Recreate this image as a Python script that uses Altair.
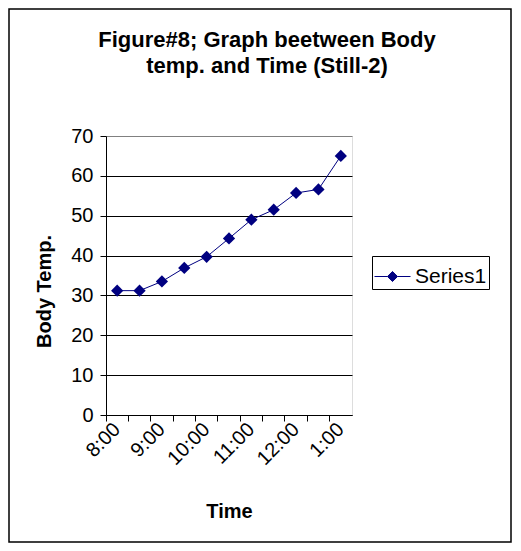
import altair as alt
import pandas as pd

times = ["8:00", "8:30", "9:00", "9:30", "10:00", "10:30",
         "11:00", "11:30", "12:00", "12:30", "1:00"]
body_temp = [31.2, 31.2, 33.5, 36.9, 39.7, 44.3, 49.0, 51.5, 55.7, 56.6, 65.0]
series = ["Series1"] * len(times)

title_lines = ["Figure#8; Graph beetween Body", "temp. and Time (Still-2)"]
y_ticks = [0, 10, 20, 30, 40, 50, 60, 70]

df = pd.DataFrame({"time": times, "temp": body_temp, "series": series})

FONT = "Liberation Sans"
NAVY = "#000080"

x_enc = alt.X(
    "time:N",
    sort=times,
    scale=alt.Scale(type="band", paddingInner=0, paddingOuter=0),
    axis=alt.Axis(
        title="Time",
        labelAngle=-45,
        labelAlign="right",
        labelBaseline="middle",
        labelFontSize=20,
        labelPadding=5,
        labelExpr="indexof(datum.label, ':00') >= 0 ? datum.label : ''",
        tickSize=6,
        bandPosition=0,
        tickColor="black",
        domainColor="black",
        grid=False,
        titleFontSize=20,
        titleFontWeight="bold",
        titlePadding=33,
    ),
)
y_enc = alt.Y(
    "temp:Q",
    scale=alt.Scale(domain=[0, 70], nice=False),
    axis=alt.Axis(
        title="Body Temp.",
        values=y_ticks,
        labelFontSize=20,
        labelPadding=7,
        tickSize=6,
        tickColor="black",
        domainColor="black",
        gridColor={"condition": {"test": "datum.value === 70", "value": "#808080"}, "value": "#000000"},
        gridOpacity=1,
        titleFontSize=20,
        titleFontWeight="bold",
        titlePadding=16,
        titleY=155,
    ),
)

base = alt.Chart(df)

line = base.mark_line(color=NAVY, strokeWidth=1).encode(x=x_enc, y=y_enc)

points = base.mark_point(shape="diamond", filled=True, size=150, opacity=1).encode(
    x=x_enc,
    y=y_enc,
    color=alt.Color(
        "series:N",
        scale=alt.Scale(range=[NAVY]),
        legend=alt.Legend(
            title=None,
            orient="none",
            legendX=266,
            legendY=120,
            strokeColor="black",
            fillColor="white",
            padding=2,
            labelFontSize=21,
            labelFont=FONT,
            labelColor="black",
            labelOffset=4,
            symbolType="M-1,0L-0.28,0M0.28,0L1,0M0,-0.28L0.28,0L0,0.28L-0.28,0Z",
            symbolSize=1296,
            symbolStrokeColor=NAVY,
            symbolStrokeWidth=1,
            symbolFillColor=NAVY,
            symbolOpacity=1,
        ),
    ),
)

frame = alt.Chart(pd.DataFrame({"f": [0]})).mark_rect(
    fill=None, stroke="black", strokeWidth=1.5
).encode(
    x=alt.value(-97), x2=alt.value(405), y=alt.value(-127), y2=alt.value(406)
)

chart = alt.layer(frame, line, points).properties(
    width=246,
    height=279,
    title=alt.Title(
        title_lines,
        fontSize=22,
        fontWeight="bold",
        font=FONT,
        lineHeight=26,
        anchor="middle",
        dx=38,
        offset=-70,
        color="black",
    ),
    autosize=alt.AutoSizeParams(type="none"),
    padding={"left": 98, "top": 128, "right": 161, "bottom": 128},
).configure_view(
    fill="#C0C0C0", stroke="#808080", strokeWidth=1
).configure_axis(
    labelFont=FONT, titleFont=FONT, labelColor="black", titleColor="black"
).configure(background="white")

chart.save("out.html", embed_options={"renderer": "svg", "actions": False})
